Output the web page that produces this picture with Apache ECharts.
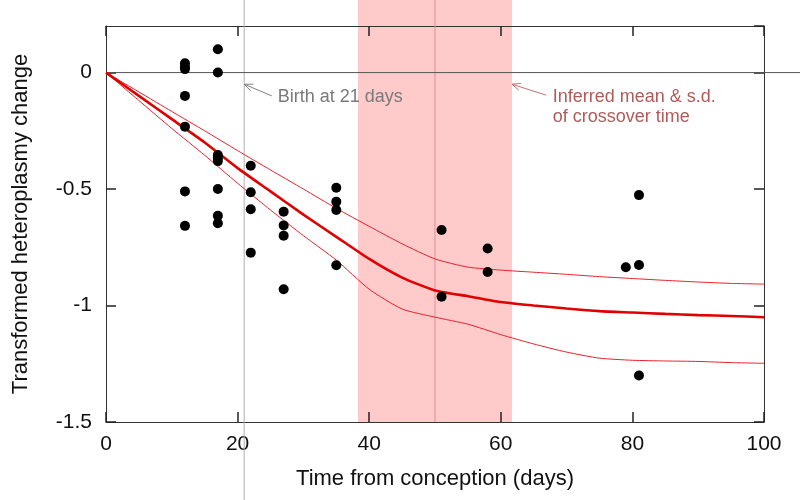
<!DOCTYPE html>
<html>
<head>
<meta charset="utf-8">
<script src="https://cdn.jsdelivr.net/npm/echarts@6/dist/echarts.min.js"></script>
<style>
  html, body { margin: 0; padding: 0; background: #fff; }
  #chart { width: 800px; height: 500px; }
</style>
</head>
<body>
<div id="chart"></div>
<script>
// Observed samples (days from conception, transformed heteroplasmy change)
var sampleDays = [12, 12, 12, 12, 12, 12, 12,
  17, 17, 17, 17, 17, 17, 17, 17,
  22, 22, 22, 22,
  27, 27, 27, 27,
  35, 35, 35, 35,
  51, 51, 58, 58, 79, 81, 81, 81];
var sampleValues = [0.04, 0.025, 0.015, -0.1, -0.232, -0.51, -0.658,
  0.1, 0.0, -0.354, -0.366, -0.38, -0.5, -0.615, -0.647,
  -0.4, -0.514, -0.587, -0.773,
  -0.597, -0.656, -0.7, -0.93,
  -0.494, -0.554, -0.59, -0.827,
  -0.676, -0.962, -0.755, -0.856, -0.836, -0.526, -0.826, -1.3];

// Model fit: mean and +/- s.d.
var curveDays = [0, 5, 10, 15, 20, 25, 30, 35, 40, 45, 50, 55, 60, 65, 70, 75, 80, 85, 90, 95, 100];
var meanCurve = [0, -0.1, -0.2, -0.3, -0.41, -0.51, -0.61, -0.705, -0.8, -0.88, -0.935, -0.96, -0.985, -1.0, -1.013, -1.024, -1.03, -1.036, -1.041, -1.045, -1.05];
var upperCurve = [0, -0.083, -0.167, -0.25, -0.335, -0.418, -0.5, -0.583, -0.66, -0.735, -0.8, -0.835, -0.848, -0.857, -0.866, -0.876, -0.884, -0.892, -0.899, -0.905, -0.908];
var lowerCurve = [0, -0.12, -0.24, -0.355, -0.475, -0.59, -0.7, -0.805, -0.93, -1.015, -1.05, -1.08, -1.125, -1.165, -1.2, -1.226, -1.235, -1.238, -1.24, -1.245, -1.248];

var birthDay = 21;
var crossoverMean = 50;
var crossoverSd = 11.7;

var birthLabel = 'Birth at 21 days';
var crossoverLabel = 'Inferred mean & s.d.\nof crossover time';

function zipXY(xs, ys) {
  return xs.map(function (x, i) { return [x, ys[i]]; });
}

var chart = echarts.init(document.getElementById('chart'));
var font = 'Liberation Sans, Arial, sans-serif';
var axisColor = '#333';
var tickStyle = { show: true, inside: true, length: 10, lineStyle: { color: '#222', width: 1.5 } };

var option = {
  animation: false,
  grid: { left: 106, right: 36, top: 26, bottom: 78 },
  xAxis: [{
    type: 'value', min: 0, max: 100, interval: 20,
    name: 'Time from conception (days)', nameLocation: 'middle', nameGap: 46,
    nameTextStyle: { fontFamily: font, fontSize: 22, color: '#111' },
    axisLine: { show: true, onZero: false, lineStyle: { color: axisColor } },
    axisTick: tickStyle,
    axisLabel: { fontFamily: font, fontSize: 21, color: '#111', margin: 12 },
    splitLine: { show: false }
  }, {
    type: 'value', min: 0, max: 100, interval: 20, position: 'top',
    axisLine: { show: true, onZero: false, lineStyle: { color: axisColor } },
    axisTick: tickStyle,
    axisLabel: { show: false }, splitLine: { show: false }
  }],
  yAxis: [{
    type: 'value', min: -1.5, max: 0.2, interval: 0.5,
    name: 'Transformed heteroplasmy change', nameLocation: 'middle', nameGap: 74,
    nameTextStyle: { fontFamily: font, fontSize: 22, color: '#111' },
    axisLine: { show: true, onZero: false, lineStyle: { color: axisColor } },
    axisTick: tickStyle,
    axisLabel: { fontFamily: font, fontSize: 21, color: '#111', margin: 14, showMaxLabel: false },
    splitLine: { show: false }
  }, {
    type: 'value', min: -1.5, max: 0.2, interval: 0.5, position: 'right',
    axisLine: { show: true, onZero: false, lineStyle: { color: axisColor } },
    axisTick: tickStyle,
    axisLabel: { show: false }, splitLine: { show: false }
  }],
  series: [{
    name: 'upper', type: 'line', data: zipXY(curveDays, upperCurve),
    showSymbol: false, smooth: 0.2, z: 3,
    lineStyle: { color: '#e8202a', width: 1 }
  }, {
    name: 'lower', type: 'line', data: zipXY(curveDays, lowerCurve),
    showSymbol: false, smooth: 0.2, z: 3,
    lineStyle: { color: '#e8202a', width: 1 }
  }, {
    name: 'mean', type: 'line', data: zipXY(curveDays, meanCurve),
    showSymbol: false, smooth: 0.2, z: 4,
    lineStyle: { color: '#e00000', width: 2.6 }
  }, {
    name: 'samples', type: 'scatter', data: zipXY(sampleDays, sampleValues),
    symbolSize: 10, z: 5,
    itemStyle: { color: '#000', opacity: 1 }
  }]
};

chart.setOption(option);

// reference lines, band and annotations, placed through the axes
function px(x, y) { return chart.convertToPixel({ gridIndex: 0 }, [x, y]); }

function seg(x1, y1, x2, y2, color, z) {
  return { type: 'line', z: z || 10, shape: { x1: x1, y1: y1, x2: x2, y2: y2 }, style: { stroke: color, lineWidth: 1 } };
}

function arrow(from, to, color) {
  var a = px(from[0], from[1]);
  var b = px(to[0], to[1]);
  var ang = Math.atan2(b[1] - a[1], b[0] - a[0]);
  var len = 9, spread = 0.4;
  var h1 = [b[0] - len * Math.cos(ang - spread), b[1] - len * Math.sin(ang - spread)];
  var h2 = [b[0] - len * Math.cos(ang + spread), b[1] - len * Math.sin(ang + spread)];
  return [
    seg(a[0], a[1], b[0], b[1], color),
    { type: 'polyline', z: 10, shape: { points: [h1, b, h2] }, style: { stroke: color, lineWidth: 1, fill: null } }
  ];
}

var bottomY = px(0, -1.5)[1];
var zero = px(0, 0);
var bandL = px(crossoverMean - crossoverSd, 0)[0];
var bandR = px(crossoverMean + crossoverSd, 0)[0];
var meanX = px(crossoverMean, 0)[0];
var birthX = px(birthDay, 0)[0];
var birthText = px(26.1, -0.105);
var crossText = px(67.9, -0.148);

var graphics = [
  { type: 'rect', z: -1, shape: { x: bandL, y: 0, width: bandR - bandL, height: bottomY }, style: { fill: '#ffcaca' } },
  seg(meanX, 0, meanX, bottomY, '#e58c93', 1),
  seg(birthX, 0, birthX, 500, '#b0b0b0', 1),
  seg(zero[0], zero[1], 800, zero[1], '#555', 1),
  { type: 'text', z: 10, x: birthText[0], y: birthText[1], style: { text: birthLabel, font: '18px ' + font, fill: '#7a7a7a', verticalAlign: 'middle' } },
  { type: 'text', z: 10, x: crossText[0], y: crossText[1], style: { text: crossoverLabel, font: '18px ' + font, fill: '#b05a5a', verticalAlign: 'middle', lineHeight: 20 } }
].concat(arrow([25.2, -0.1], [birthDay, -0.05], '#808080'))
 .concat(arrow([66.9, -0.097], [crossoverMean + crossoverSd, -0.05], '#c07070'));

chart.setOption({ graphic: graphics });
</script>
</body>
</html>
